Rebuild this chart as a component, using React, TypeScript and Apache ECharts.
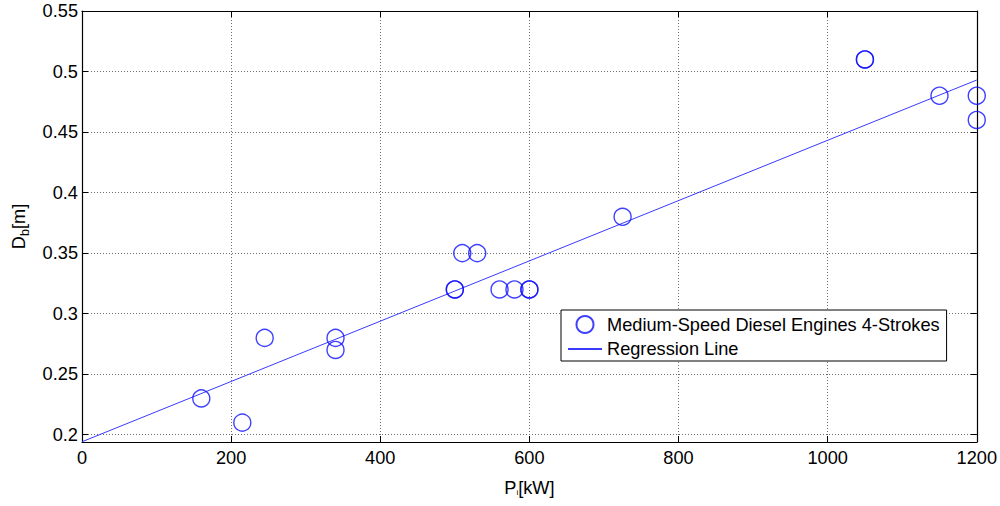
import React, { useEffect, useRef } from 'react';
import * as echarts from 'echarts';

// Scatter data: engine power [kW] vs bore [m]
const powerKW = [160, 215, 245, 340, 340, 500, 500, 510, 530, 560, 580, 600, 600, 725, 1050, 1050, 1150, 1200, 1200];
const boreM = [0.23, 0.21, 0.28, 0.28, 0.27, 0.32, 0.32, 0.35, 0.35, 0.32, 0.32, 0.32, 0.32, 0.38, 0.51, 0.51, 0.48, 0.48, 0.46];

// Regression line end points
const regressionX = [0, 1200];
const regressionY = [0.1942, 0.493];

// Tick labels
const xTicks = [0, 200, 400, 600, 800, 1000, 1200];
const yTicks = [0.2, 0.25, 0.3, 0.35, 0.4, 0.45, 0.5, 0.55];

const SCATTER_NAME = 'Medium-Speed Diesel Engines 4-Strokes';
const LINE_NAME = 'Regression Line';

const FONT = '"Liberation Sans", Arial, sans-serif';
const FS = 18.2;

export default function App() {
  const ref = useRef<HTMLDivElement>(null);
  useEffect(() => {
    if (!ref.current) return;
    const chart = echarts.init(ref.current, undefined, { renderer: 'svg' });
    const scatterData = powerKW.map((p, i) => [p, boreM[i]]);
    const lineData = regressionX.map((x, i) => [x, regressionY[i]]);
    const gridLine = { show: true, lineStyle: { color: '#6e6e6e', width: 1, type: [1, 2] as any } };
    const axisLine = { show: true, onZero: false, lineStyle: { color: '#000', width: 1.2 } };
    const tick = { show: true, inside: true, length: 6, lineStyle: { color: '#000', width: 1 } };
    chart.setOption({
      animation: false,
      backgroundColor: '#fff',
      textStyle: { fontFamily: FONT },
      grid: { left: 82, right: 23, top: 11, bottom: 64, containLabel: false },
      legend: {
        orient: 'vertical',
        left: 561,
        top: 310,
        padding: [5, 7, 3, 6],
        itemGap: 6,
        itemWidth: 34,
        itemHeight: 17,
        itemTextGap: 4,
        borderColor: '#000',
        borderWidth: 1,
        backgroundColor: '#fff',
        textStyle: { fontFamily: FONT, fontSize: FS, color: '#000' },
        data: [{ name: SCATTER_NAME }, { name: LINE_NAME }],
      },
      xAxis: [
        {
          type: 'value',
          min: xTicks[0],
          max: xTicks[xTicks.length - 1],
          interval: 200,
          position: 'bottom',
          axisLine,
          axisTick: tick,
          axisLabel: {
            color: '#000',
            fontSize: FS,
            fontFamily: FONT,
            margin: 7,
            formatter: (v: number) => String(v),
          },
          splitLine: gridLine,
          name: '{p|P}{s|i}{p|[kW]}',
          nameLocation: 'middle',
          nameGap: 37,
          nameTextStyle: {
            rich: {
              p: { fontSize: FS, fontFamily: FONT, color: '#000' },
              s: { fontSize: 8, fontFamily: FONT, color: '#000', padding: [8, 0, 0, 0] },
            },
          },
        },
        {
          type: 'value',
          min: xTicks[0],
          max: xTicks[xTicks.length - 1],
          interval: 200,
          position: 'top',
          axisLine,
          axisTick: tick,
          axisLabel: { show: false },
          splitLine: { show: false },
        },
      ],
      yAxis: [
        {
          type: 'value',
          min: 0.194,
          max: yTicks[yTicks.length - 1],
          splitNumber: 7,
          minInterval: 0.05,
          maxInterval: 0.05,
          position: 'left',
          axisLine,
          axisTick: tick,
          axisLabel: {
            color: '#000',
            fontSize: FS,
            fontFamily: FONT,
            margin: 4,
            formatter: (v: number) => {
              const hit = yTicks.find((t) => Math.abs(t - v) < 1e-6);
              return hit === undefined ? '' : String(hit);
            },
          },
          splitLine: gridLine,
          name: '{p|D}{s|b}{p|[m]}',
          nameLocation: 'middle',
          nameRotate: 90,
          nameGap: 51,
          nameTextStyle: {
            rich: {
              p: { fontSize: FS, fontFamily: FONT, color: '#000' },
              s: { fontSize: 12.5, fontFamily: FONT, color: '#000', padding: [11, 0, 0, 0] },
            },
          },
        },
        {
          type: 'value',
          min: 0.194,
          max: yTicks[yTicks.length - 1],
          splitNumber: 7,
          minInterval: 0.05,
          maxInterval: 0.05,
          position: 'right',
          axisLine,
          axisTick: tick,
          axisLabel: { show: false },
          splitLine: { show: false },
        },
      ],
      series: [
        {
          name: SCATTER_NAME,
          type: 'scatter',
          symbol: 'circle',
          symbolSize: 17,
          data: scatterData,
          itemStyle: { color: 'rgba(255,255,255,0)', borderColor: '#1010ff', borderWidth: 1.4 },
          z: 3,
        },
        {
          name: LINE_NAME,
          type: 'line',
          data: lineData,
          symbol: 'none',
          showSymbol: false,
          lineStyle: { color: '#3a3aff', width: 1 },
          itemStyle: { color: 'rgba(0,0,0,0)', borderWidth: 0 },
          z: 2,
        },
      ],
    });
    return () => chart.dispose();
  }, []);
  return <div ref={ref} style={{ position: 'absolute', left: 0, top: 0, width: 1000, height: 506 }} />;
}
